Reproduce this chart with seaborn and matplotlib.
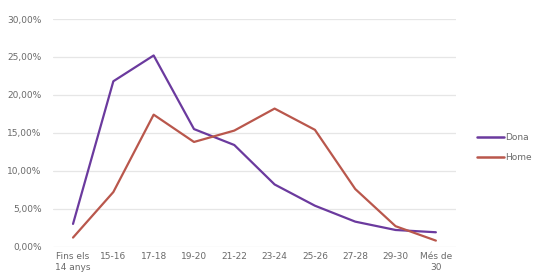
import matplotlib
matplotlib.use("Agg")
import matplotlib.pyplot as plt
import seaborn as sns
import pandas as pd
from matplotlib.ticker import FuncFormatter
from matplotlib.lines import Line2D

categories = ["Fins els\n14 anys", "15-16", "17-18", "19-20", "21-22", "23-24",
              "25-26", "27-28", "29-30", "Més de\n30"]
dona = [3.0, 21.8, 25.2, 15.5, 13.4, 8.2, 5.4, 3.3, 2.2, 1.9]
home = [1.2, 7.2, 17.4, 13.8, 15.3, 18.2, 15.4, 7.6, 2.7, 0.8]
series_names = ["Dona", "Home"]
colors = ["#6B3A9E", "#B9574C"]

df = pd.DataFrame({
    "pos": list(range(len(categories))) * 2,
    "val": dona + home,
    "serie": [series_names[0]] * len(dona) + [series_names[1]] * len(home),
})

sns.set_style("white")
plt.rcParams["font.family"] = ["DejaVu Sans"]

fig = plt.figure(figsize=(5.34, 2.8), dpi=100)
ax = fig.add_axes([0.099, 0.119, 0.755, 0.813])

sns.lineplot(data=df, x="pos", y="val", hue="serie", palette=colors,
             linewidth=1.6, ax=ax, legend=False)

ax.set_xlim(-0.5, 9.5)
ax.set_ylim(0, 30)
ax.set_yticks([0, 5, 10, 15, 20, 25, 30])
ax.yaxis.set_major_formatter(FuncFormatter(lambda v, p: f"{v:.2f}%".replace(".", ",")))
ax.set_xticks(range(len(categories)))
ax.set_xticklabels(categories, fontsize=6.5, color="#6a6a6a", linespacing=1.3)
ax.tick_params(axis="y", labelsize=6.5, labelcolor="#6a6a6a", length=0, pad=8)
ax.tick_params(axis="x", length=0, pad=4)
ax.grid(axis="y", color="#e6e6e6", linewidth=0.9)
ax.set_axisbelow(True)
for s in ax.spines.values():
    s.set_visible(False)
ax.set_xlabel("")
ax.set_ylabel("")

handles = [Line2D([0], [0], color=c, linewidth=1.8) for c in colors]
leg = fig.legend(handles, series_names, loc="center left", bbox_to_anchor=(0.893, 0.473),
                 frameon=False, fontsize=6.5, handlelength=3.0, handletextpad=0.15,
                 labelspacing=1.3, borderpad=0, borderaxespad=0)
for t in leg.get_texts():
    t.set_color("#6a6a6a")

fig.savefig("out.png", dpi=100)
